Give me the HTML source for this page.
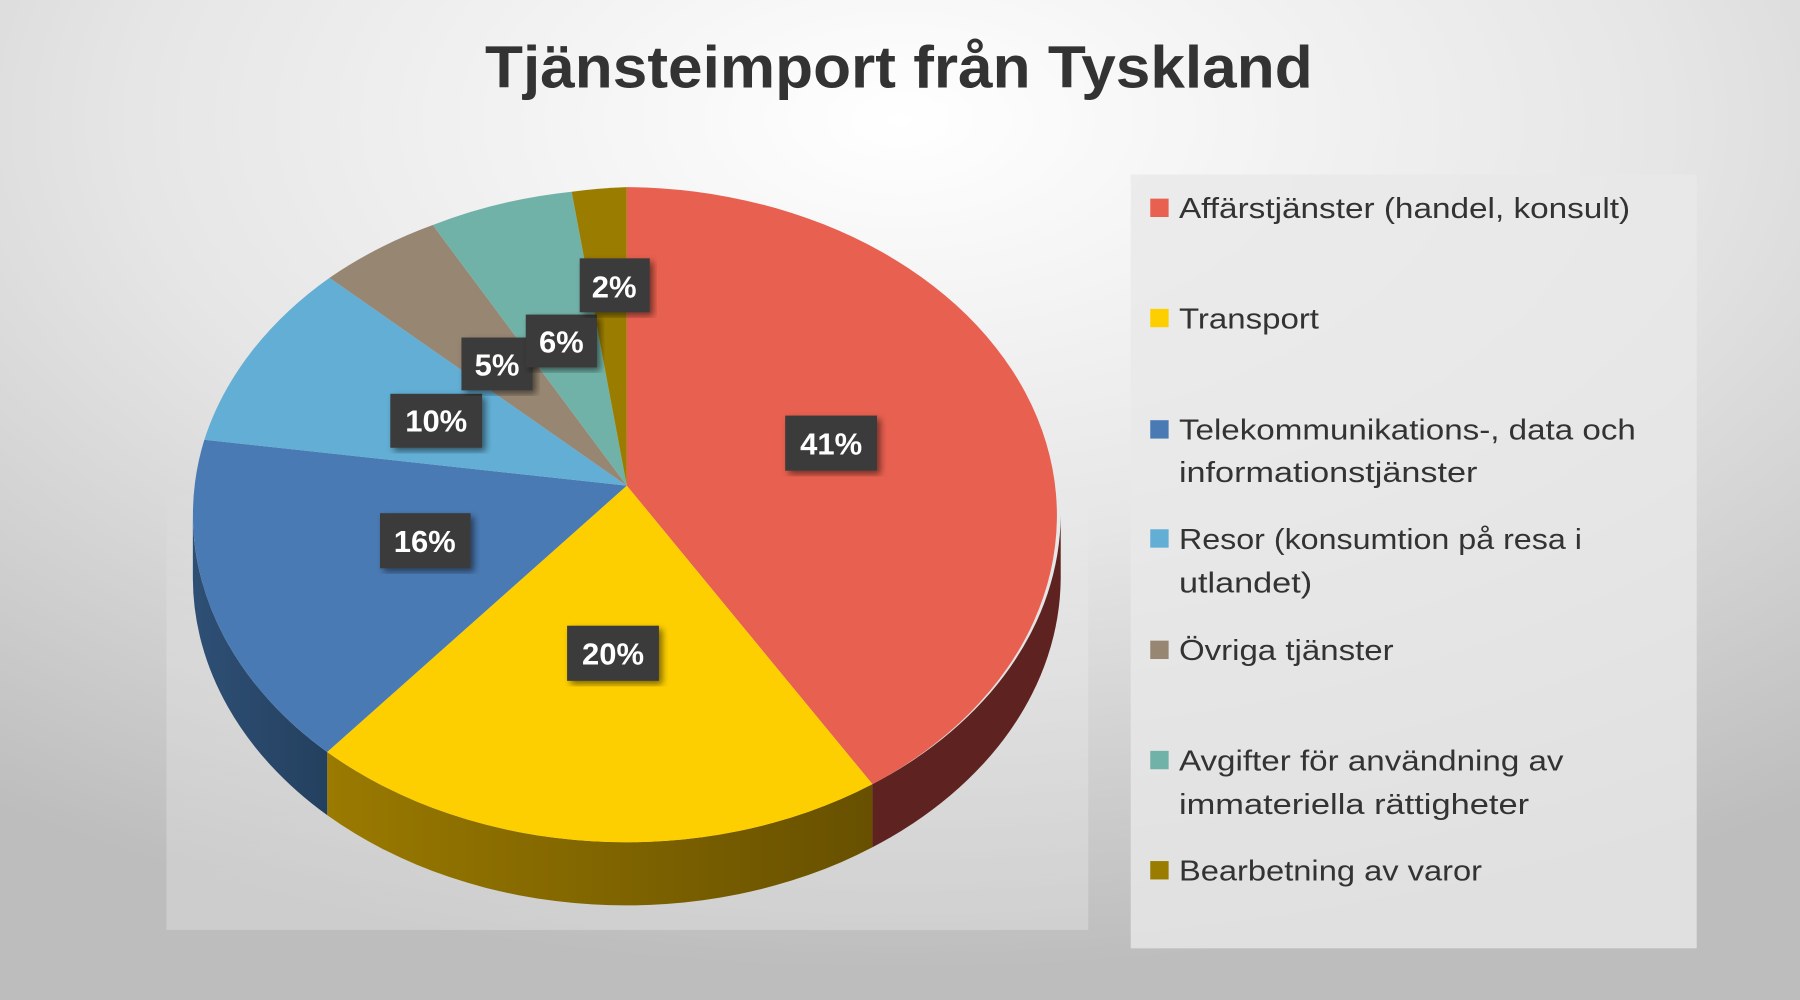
<!DOCTYPE html>
<html><head><meta charset="utf-8"><style>
html,body{margin:0;padding:0;width:1800px;height:1000px;overflow:hidden}
svg{display:block}
text{font-family:"Liberation Sans",sans-serif}
</style></head><body>
<svg width="1800" height="1000" viewBox="0 0 1568 871" preserveAspectRatio="none">
<defs>
<radialGradient id="bg" cx="0.5" cy="0.12" r="0.85">
<stop offset="0" stop-color="#ffffff"/><stop offset="0.5" stop-color="#e6e6e6"/><stop offset="1" stop-color="#bdbdbd"/>
</radialGradient>
<linearGradient id="ys" x1="0" x2="1"><stop offset="0" stop-color="#9a7a00"/><stop offset="1" stop-color="#675000"/></linearGradient>
<linearGradient id="bs" x1="0" x2="1"><stop offset="0" stop-color="#2e4f75"/><stop offset="1" stop-color="#24405f"/></linearGradient>
<linearGradient id="shg" x1="0" y1="0" x2="0" y2="1"><stop offset="0" stop-color="#fff" stop-opacity="0"/><stop offset="0.4" stop-color="#fff" stop-opacity="0.2"/><stop offset="1" stop-color="#fff" stop-opacity="0.25"/></linearGradient>
<filter id="ds"><feDropShadow dx="3" dy="3" stdDeviation="3" flood-opacity="0.5"/></filter>
</defs>
<rect width="1568" height="871" fill="url(#bg)"/>
<rect x="145" y="420" width="803" height="390" fill="url(#shg)"/>
<text x="783" y="76" text-anchor="middle" font-size="52" font-weight="bold" fill="#333" textLength="721" lengthAdjust="spacingAndGlyphs">Tjänsteimport från Tyskland</text>
<path d="M924,449 A378,286 0 0 1 760,683 L760,738 A378,286 0 0 0 924,504 Z" fill="#5e2320"/>
<path d="M760,683 A378,286 0 0 1 285,655 L285,710 A378,286 0 0 0 760,738 Z" fill="url(#ys)"/>
<path d="M285,655 A378,286 0 0 1 168,449 L168,504 A378,286 0 0 0 285,710 Z" fill="url(#bs)"/>
<g>
<path d="M546,423 L546,163 A378,286 0 0 1 760,683 Z" fill="#e8604f"/>
<path d="M546,423 L760,683 A378,286 0 0 1 285,655 Z" fill="#fecf00"/>
<path d="M546,423 L285,655 A378,286 0 0 1 178,383 Z" fill="#4a7ab4"/>
<path d="M546,423 L178,383 A378,286 0 0 1 287,242 Z" fill="#62aed4"/>
<path d="M546,423 L287,242 A378,286 0 0 1 377,196 Z" fill="#978672"/>
<path d="M546,423 L377,196 A378,286 0 0 1 498,167 Z" fill="#71b2a8"/>
<path d="M546,423 L498,167 A378,286 0 0 1 546,163 Z" fill="#9a7c00"/>
</g>
<g font-size="27" font-weight="bold" fill="#fff" text-anchor="middle">
<rect x="684" y="362" width="80" height="48" fill="#3a3a3a" filter="url(#ds)"/><text x="724" y="396">41%</text>
<rect x="494" y="545" width="80" height="48" fill="#3a3a3a" filter="url(#ds)"/><text x="534" y="579">20%</text>
<rect x="331" y="447" width="79" height="48" fill="#3a3a3a" filter="url(#ds)"/><text x="370" y="481">16%</text>
<rect x="340" y="343" width="80" height="47" fill="#3a3a3a" filter="url(#ds)"/><text x="380" y="376">10%</text>
<rect x="402" y="294" width="62" height="46" fill="#3a3a3a" filter="url(#ds)"/><text x="433" y="327">5%</text>
<rect x="458" y="274" width="62" height="46" fill="#3a3a3a" filter="url(#ds)"/><text x="489" y="307">6%</text>
<rect x="505" y="225" width="61" height="47" fill="#3a3a3a" filter="url(#ds)"/><text x="535" y="259">2%</text>
</g>
<rect x="985" y="152" width="493" height="674" fill="#e8e8e8" opacity="0.8"/>
<g font-size="25" fill="#333">
<rect x="1002" y="173" width="16" height="16" fill="#e8604f"/><text x="1027" y="190" textLength="393" lengthAdjust="spacingAndGlyphs">Affärstjänster (handel, konsult)</text>
<rect x="1002" y="269" width="16" height="16" fill="#fecf00"/><text x="1027" y="286" textLength="122" lengthAdjust="spacingAndGlyphs">Transport</text>
<rect x="1002" y="366" width="16" height="16" fill="#4a7ab4"/><text x="1027" y="383" textLength="398" lengthAdjust="spacingAndGlyphs">Telekommunikations-, data och</text>
<text x="1027" y="420" textLength="260" lengthAdjust="spacingAndGlyphs">informationstjänster</text>
<rect x="1002" y="461" width="16" height="16" fill="#62aed4"/><text x="1027" y="478" textLength="351" lengthAdjust="spacingAndGlyphs">Resor (konsumtion på resa i</text>
<text x="1027" y="516" textLength="116" lengthAdjust="spacingAndGlyphs">utlandet)</text>
<rect x="1002" y="558" width="16" height="16" fill="#978672"/><text x="1027" y="575" textLength="187" lengthAdjust="spacingAndGlyphs">Övriga tjänster</text>
<rect x="1002" y="654" width="16" height="16" fill="#71b2a8"/><text x="1027" y="671" textLength="335" lengthAdjust="spacingAndGlyphs">Avgifter för användning av</text>
<text x="1027" y="709" textLength="305" lengthAdjust="spacingAndGlyphs">immateriella rättigheter</text>
<rect x="1002" y="750" width="16" height="16" fill="#9a7c00"/><text x="1027" y="767" textLength="264" lengthAdjust="spacingAndGlyphs">Bearbetning av varor</text>
</g>
</svg>
</body></html>
